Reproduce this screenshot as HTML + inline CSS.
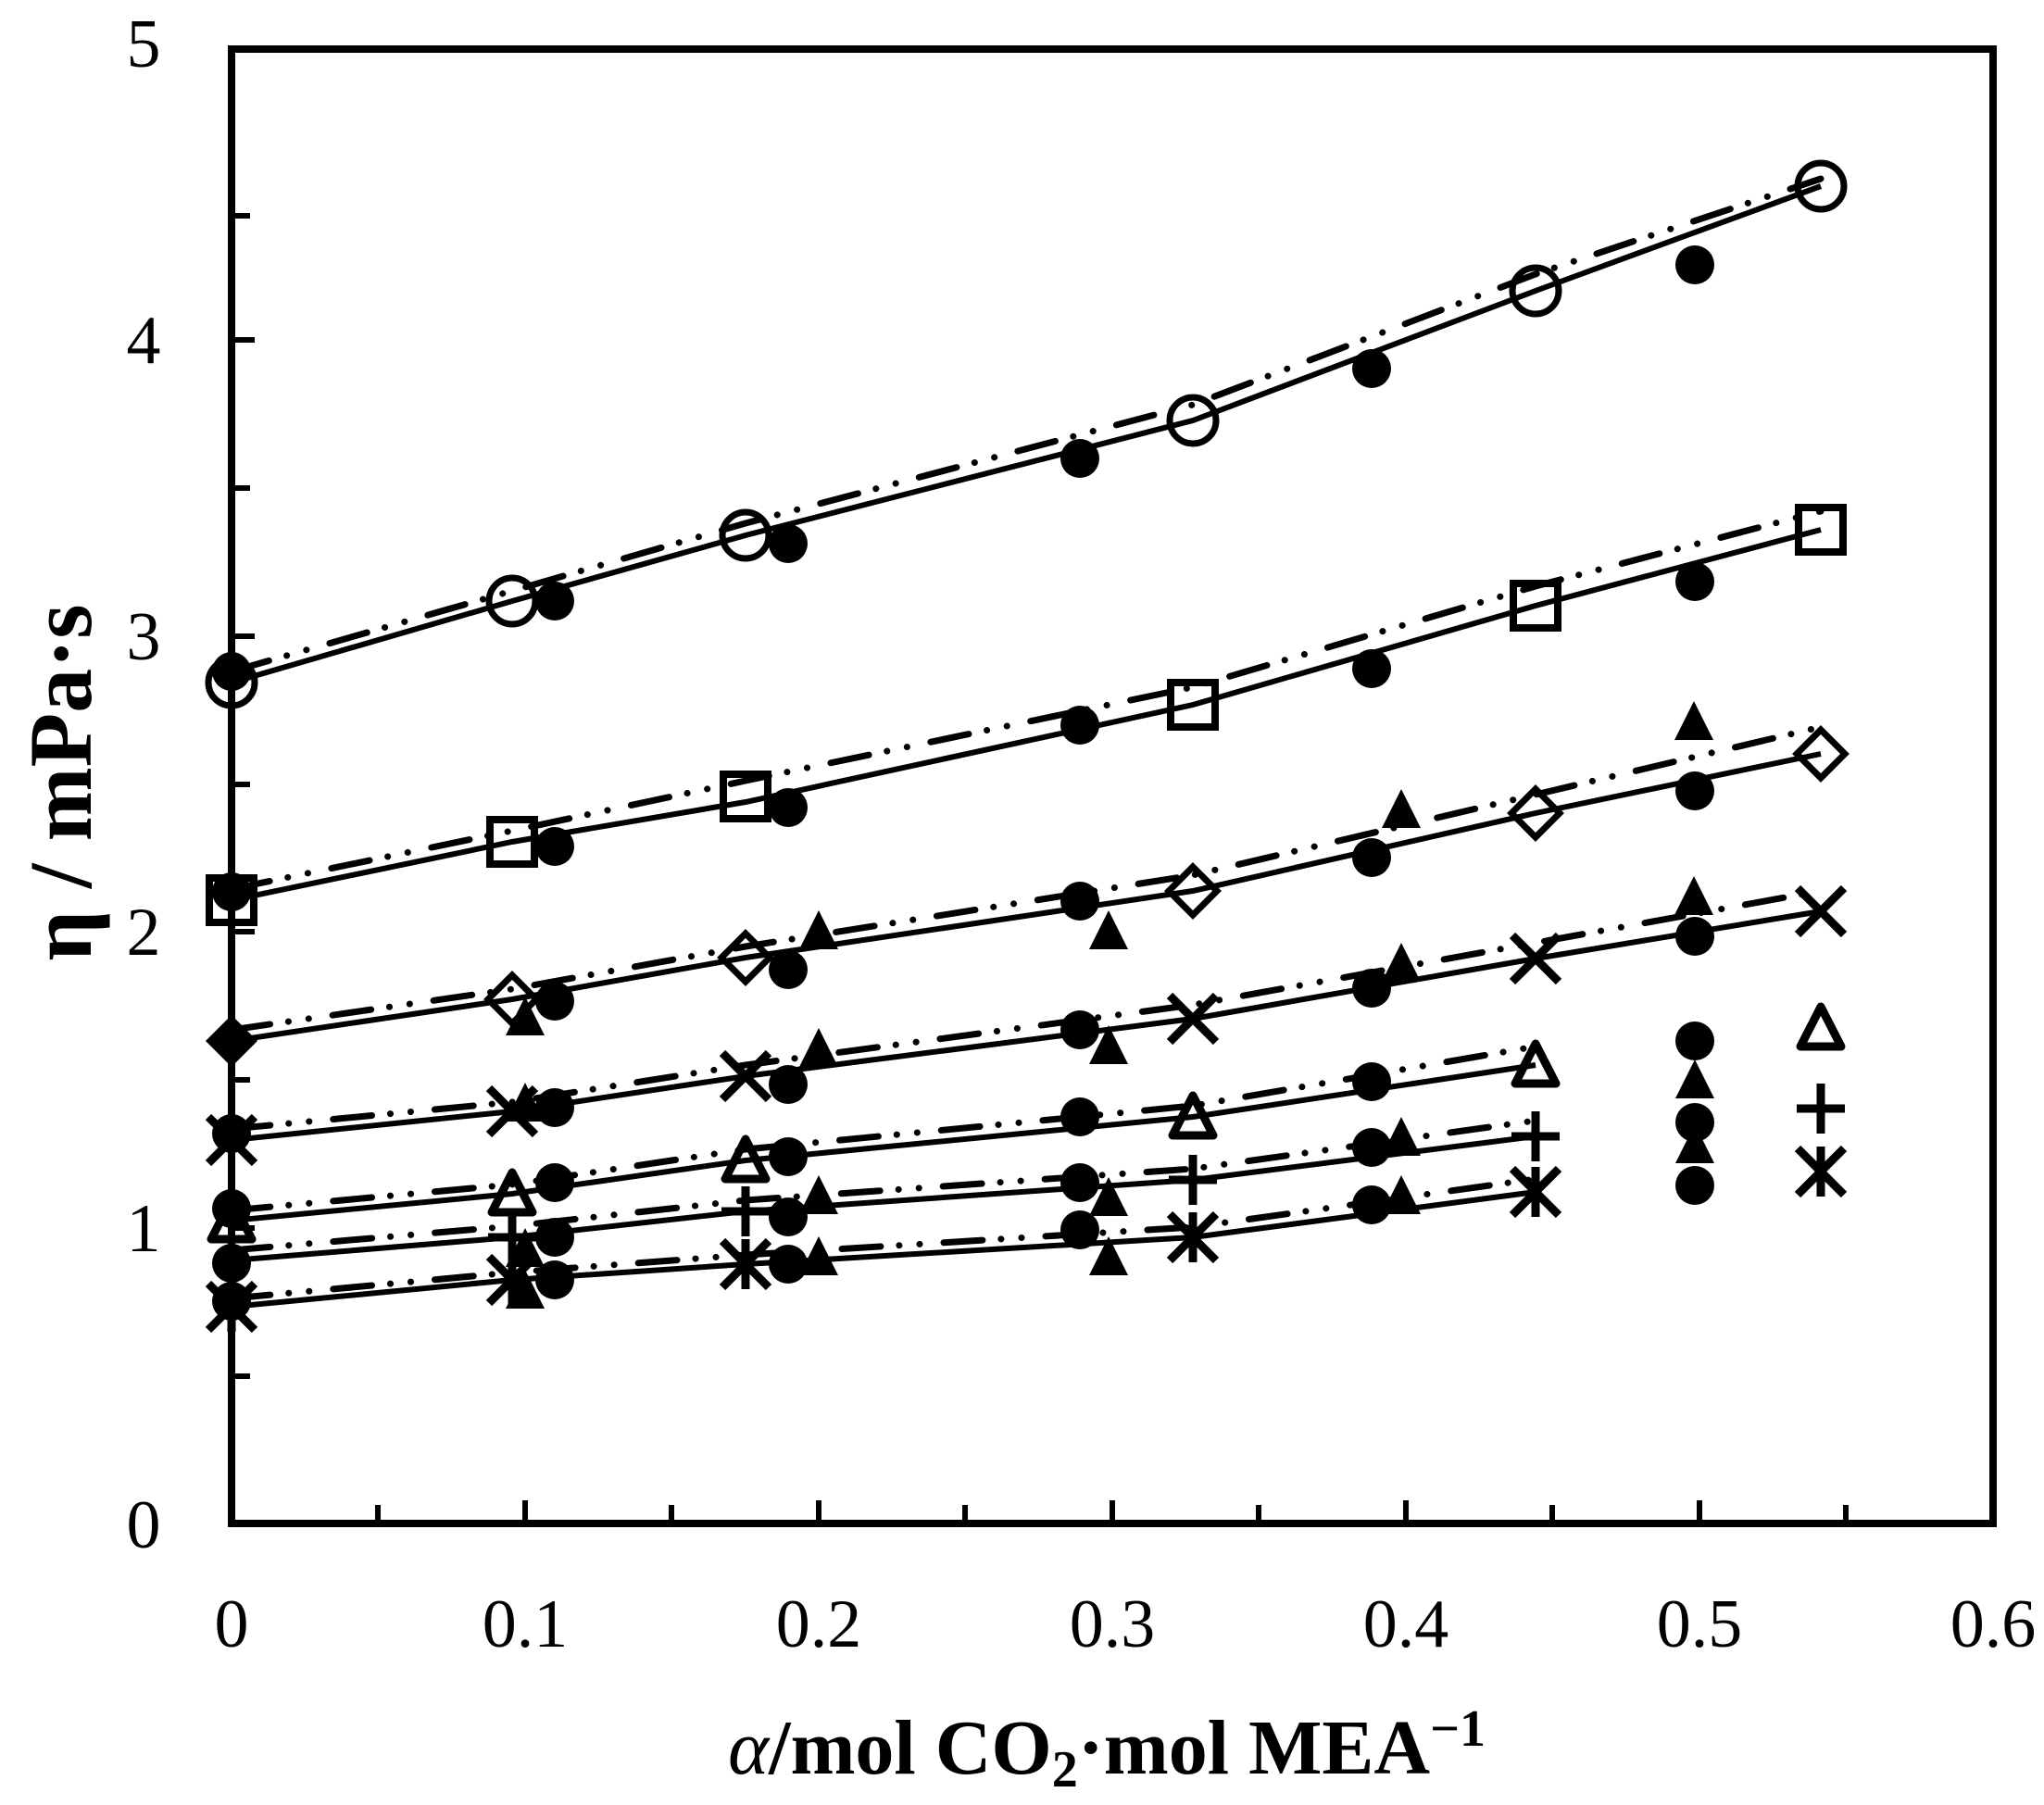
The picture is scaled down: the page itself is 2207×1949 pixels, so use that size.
<!DOCTYPE html>
<html><head><meta charset="utf-8"><style>
html,body{margin:0;padding:0;background:#fff}
svg{display:block}
</style></head><body>
<svg width="2207" height="1949" viewBox="0 0 2207 1949" xmlns="http://www.w3.org/2000/svg">
<defs>
<g id="oc"><circle r="25" fill="#fff" fill-opacity="0" stroke="#000" stroke-width="7"/></g>
<g id="fc"><circle r="21" fill="#000"/></g>
<g id="sq"><rect x="-24" y="-24" width="48" height="48" fill="none" stroke="#000" stroke-width="8"/></g>
<g id="dm"><path d="M0,-26 L26,0 L0,26 L-26,0 Z" fill="none" stroke="#000" stroke-width="7"/></g>
<g id="fd"><path d="M0,-28 L28,0 L0,28 L-28,0 Z" fill="#000"/></g>
<g id="xx"><path d="M-25,-25 L25,25 M25,-25 L-25,25" stroke="#000" stroke-width="9"/></g>
<g id="ft"><path d="M0,-24 L21,18 L-21,18 Z" fill="#000"/></g>
<g id="ot"><path d="M0,-23 L22,20 L-22,20 Z" fill="none" stroke="#000" stroke-width="9" stroke-linejoin="round"/></g>
<g id="pl"><path d="M-26,0 L26,0 M0,-27 L0,27" stroke="#000" stroke-width="9"/></g>
<g id="as"><path d="M-25,-25 L25,25 M25,-25 L-25,25 M0,-27 L0,27" stroke="#000" stroke-width="9"/></g>
</defs>

<rect x="250" y="53" width="1902" height="1592" fill="none" stroke="#000" stroke-width="8"/>
<g stroke="#000" stroke-width="6">
<line x1="250" y1="1486" x2="270" y2="1486"/><line x1="250" y1="1326" x2="275" y2="1326"/>
<line x1="250" y1="1166" x2="270" y2="1166"/><line x1="250" y1="1006" x2="275" y2="1006"/>
<line x1="250" y1="847" x2="270" y2="847"/><line x1="250" y1="687" x2="275" y2="687"/>
<line x1="250" y1="527" x2="270" y2="527"/><line x1="250" y1="367" x2="275" y2="367"/>
<line x1="250" y1="233" x2="270" y2="233"/>
<line x1="408" y1="1645" x2="408" y2="1625"/><line x1="567" y1="1645" x2="567" y2="1620"/>
<line x1="725" y1="1645" x2="725" y2="1625"/><line x1="884" y1="1645" x2="884" y2="1620"/>
<line x1="1042" y1="1645" x2="1042" y2="1625"/><line x1="1201" y1="1645" x2="1201" y2="1620"/>
<line x1="1359" y1="1645" x2="1359" y2="1625"/><line x1="1518" y1="1645" x2="1518" y2="1620"/>
<line x1="1676" y1="1645" x2="1676" y2="1625"/><line x1="1835" y1="1645" x2="1835" y2="1620"/>
<line x1="1993" y1="1645" x2="1993" y2="1625"/>
</g>
<g font-family="Liberation Serif, serif" font-size="74" text-anchor="middle" fill="#000">
<text x="155" y="1671">0</text><text x="155" y="1351">1</text><text x="155" y="1031">2</text>
<text x="155" y="712">3</text><text x="155" y="392">4</text><text x="155" y="72">5</text>
<text x="250" y="1778">0</text><text x="567" y="1778">0.1</text><text x="884" y="1778">0.2</text>
<text x="1201" y="1778">0.3</text><text x="1518" y="1778">0.4</text><text x="1835" y="1778">0.5</text>
<text x="2152" y="1778">0.6</text>
</g>
<text transform="translate(98,845) rotate(-90)" font-family="Liberation Serif, serif" font-weight="bold" font-size="96" text-anchor="middle">η / mPa·s</text>
<text x="1195" y="1915" font-family="Liberation Serif, serif" font-weight="bold" font-size="84" text-anchor="middle"><tspan font-style="italic" font-weight="normal">α</tspan>/mol CO<tspan font-size="56" dy="14">2</tspan><tspan dy="-14">·mol MEA</tspan><tspan font-size="56" dy="-30">−1</tspan></text>

<g fill="none" stroke="#000" stroke-width="6">
<polyline points="250,737 553,649 805,578 1288,454 1658,314 1966,201"/>
<polyline points="250,972 553,909 805,866 1288,761 1658,654 1966,572"/>
<polyline points="250,1124 553,1079 805,1034 1288,962 1658,878 1966,814"/>
<polyline points="250,1231 553,1200 805,1162 1288,1100 1658,1035 1966,984"/>
<polyline points="250,1318 553,1289 805,1253 1288,1206 1658,1150"/>
<polyline points="250,1361 553,1336 805,1308 1288,1274 1658,1227"/>
<polyline points="250,1411 553,1382 805,1365 1288,1336 1658,1287"/>
</g>
<g fill="none" stroke="#000" stroke-width="7" stroke-linecap="round" stroke-dasharray="42 20 0.1 22 0.1 26">
<polyline points="250,725 553,638 805,565 1288,437 1658,296 1966,193"/>
<polyline points="250,960 553,897 805,843 1288,742 1658,633 1966,552"/>
<polyline points="250,1112 553,1068 805,1022 1288,945 1658,858 1966,785"/>
<polyline points="250,1219 553,1190 805,1150 1288,1085 1658,1018 1966,962"/>
<polyline points="250,1307 553,1279 805,1241 1288,1194 1658,1130"/>
<polyline points="250,1350 553,1324 805,1296 1288,1262 1658,1210"/>
<polyline points="250,1402 553,1374 805,1355 1288,1325 1658,1273"/>
</g>

<g>
<use href="#fc" x="250" y="725"/><use href="#fc" x="599" y="649"/><use href="#fc" x="851" y="587"/><use href="#fc" x="1166" y="495"/><use href="#fc" x="1481" y="398"/><use href="#fc" x="1830" y="286"/>
<use href="#fc" x="250" y="963"/><use href="#fc" x="599" y="914"/><use href="#fc" x="851" y="872"/><use href="#fc" x="1166" y="783"/><use href="#fc" x="1481" y="722"/><use href="#fc" x="1830" y="628"/>
<use href="#fc" x="599" y="1081"/><use href="#fc" x="851" y="1047"/><use href="#fc" x="1166" y="973"/><use href="#fc" x="1481" y="926"/><use href="#fc" x="1830" y="854"/>
<use href="#fc" x="250" y="1224"/><use href="#fc" x="599" y="1196"/><use href="#fc" x="851" y="1171"/><use href="#fc" x="1166" y="1112"/><use href="#fc" x="1481" y="1067"/><use href="#fc" x="1830" y="1011"/>
<use href="#fc" x="250" y="1305"/><use href="#fc" x="599" y="1277"/><use href="#fc" x="851" y="1249"/><use href="#fc" x="1166" y="1206"/><use href="#fc" x="1481" y="1168"/>
<use href="#fc" x="250" y="1364"/><use href="#fc" x="599" y="1336"/><use href="#fc" x="851" y="1314"/><use href="#fc" x="1166" y="1277"/><use href="#fc" x="1481" y="1239"/>
<use href="#fc" x="250" y="1405"/><use href="#fc" x="599" y="1382"/><use href="#fc" x="851" y="1365"/><use href="#fc" x="1166" y="1328"/><use href="#fc" x="1481" y="1301"/>
<use href="#fc" x="1830" y="1124"/><use href="#fc" x="1830" y="1212"/><use href="#fc" x="1830" y="1280"/>
</g>
<g>
<use href="#ft" x="567" y="1100"/><use href="#ft" x="884" y="1007"/><use href="#ft" x="1197" y="1007"/><use href="#ft" x="1513" y="876"/><use href="#ft" x="1829" y="781"/>
<use href="#ft" x="567" y="1193"/><use href="#ft" x="884" y="1134"/><use href="#ft" x="1197" y="1131"/><use href="#ft" x="1513" y="1042"/><use href="#ft" x="1829" y="970"/>
<use href="#ft" x="567" y="1350"/><use href="#ft" x="884" y="1293"/><use href="#ft" x="1197" y="1295"/><use href="#ft" x="1513" y="1230"/>
<use href="#ft" x="567" y="1395"/><use href="#ft" x="884" y="1359"/><use href="#ft" x="1197" y="1359"/><use href="#ft" x="1513" y="1293"/>
<use href="#ft" x="1830" y="1168"/><use href="#ft" x="1830" y="1238"/>
</g>
<g>
<use href="#oc" x="250" y="737"/><use href="#oc" x="553" y="649"/><use href="#oc" x="805" y="578"/><use href="#oc" x="1288" y="454"/><use href="#oc" x="1658" y="314"/><use href="#oc" x="1966" y="201"/>
<use href="#sq" x="250" y="972"/><use href="#sq" x="553" y="909"/><use href="#sq" x="805" y="860"/><use href="#sq" x="1288" y="761"/><use href="#sq" x="1658" y="654"/><use href="#sq" x="1966" y="572"/>
<use href="#fd" x="250" y="1124"/><use href="#dm" x="553" y="1079"/><use href="#dm" x="805" y="1034"/><use href="#dm" x="1288" y="962"/><use href="#dm" x="1658" y="878"/><use href="#dm" x="1966" y="814"/>
<use href="#xx" x="250" y="1231"/><use href="#xx" x="553" y="1200"/><use href="#xx" x="805" y="1162"/><use href="#xx" x="1288" y="1100"/><use href="#xx" x="1658" y="1035"/><use href="#xx" x="1966" y="984"/>
<use href="#ot" x="250" y="1318"/><use href="#ot" x="553" y="1289"/><use href="#ot" x="805" y="1253"/><use href="#ot" x="1288" y="1206"/><use href="#ot" x="1658" y="1150"/>
<use href="#pl" x="553" y="1336"/><use href="#pl" x="805" y="1308"/><use href="#pl" x="1288" y="1274"/><use href="#pl" x="1658" y="1227"/>
<use href="#as" x="250" y="1411"/><use href="#as" x="553" y="1382"/><use href="#as" x="805" y="1365"/><use href="#as" x="1288" y="1336"/><use href="#as" x="1658" y="1287"/>
<use href="#ot" x="1966" y="1110"/><use href="#pl" x="1966" y="1197"/><use href="#as" x="1966" y="1265"/>
</g>
</svg>
</body></html>
